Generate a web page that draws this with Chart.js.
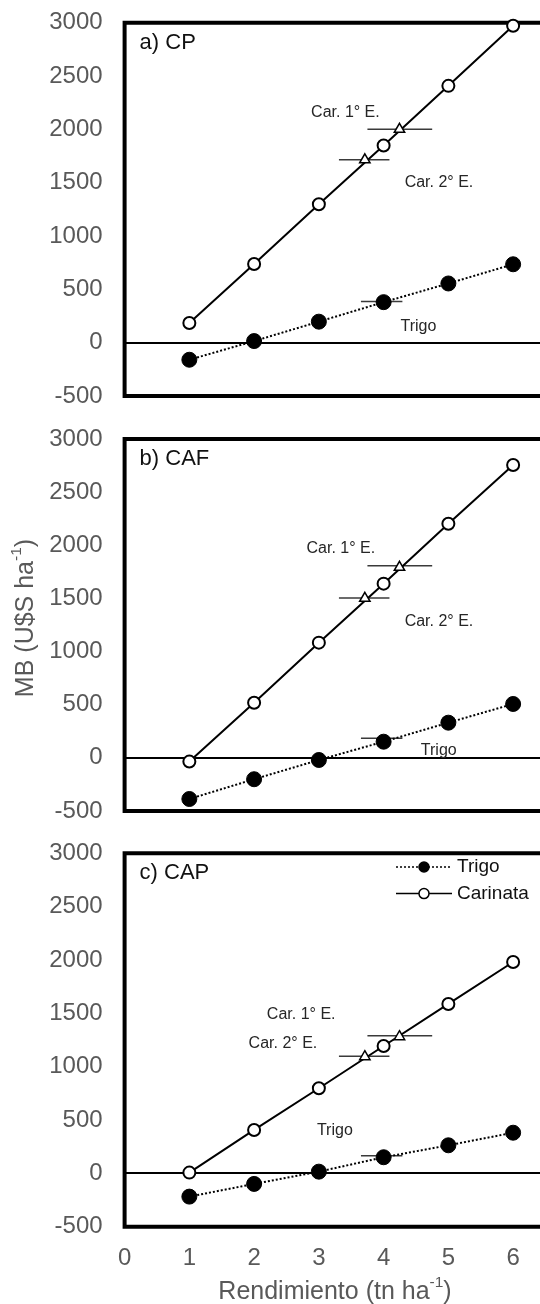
<!DOCTYPE html>
<html>
<head>
<meta charset="utf-8">
<script src="https://cdn.jsdelivr.net/npm/chart.js@4.4.1/dist/chart.umd.min.js"></script>
<style>
  html, body { margin: 0; padding: 0; background: #fff; }
  body { width: 540px; height: 1304px; position: relative; overflow: hidden; }
  canvas { position: absolute; left: 0; }
</style>
</head>
<body>
<canvas id="panelA" width="540" height="420" style="top:0px"></canvas>
<canvas id="panelB" width="540" height="412" style="top:420px"></canvas>
<canvas id="panelC" width="540" height="472" style="top:832px"></canvas>
<script>
// Yield levels (tn/ha) and axis ticks
const yields = [1, 2, 3, 4, 5, 6];
const xTickValues = [0, 1, 2, 3, 4, 5, 6];
const yTickValues = [-500, 0, 500, 1000, 1500, 2000, 2500, 3000];

// a) CP - gross margin (U$S/ha)
const trigoCP = [-160, 15, 197, 380, 555, 735];
const carinataCP = [185, 738, 1298, 1848, 2408, 2971];
const breakYieldCP = [3.71, 4.245];
const breakMbCP = [1714, 2000];
const rangeCenterCP = [3.70, 4.25, 3.97];
const rangeMbCP = [1714, 2000, 385];
const rangeHalfCP = [0.39, 0.50, 0.32];

// b) CAF
const trigoCAF = [-387, -201, -20, 152, 331, 507];
const carinataCAF = [-35, 519, 1084, 1639, 2203, 2755];
const breakYieldCAF = [3.71, 4.245];
const breakMbCAF = [1501, 1793];
const rangeCenterCAF = [3.70, 4.25, 3.97];
const rangeMbCAF = [1504, 1808, 184];
const rangeHalfCAF = [0.39, 0.50, 0.32];

// c) CAP
const trigoCAP = [-218, -99, 16, 151, 263, 381];
const carinataCAP = [7, 407, 798, 1194, 1588, 1981];
const breakYieldCAP = [3.71, 4.245];
const breakMbCAP = [1094, 1281];
const rangeCenterCAP = [3.70, 4.25, 3.97];
const rangeMbCAP = [1097, 1291, 166];
const rangeHalfCAP = [0.39, 0.50, 0.32];

const FONT = "'Liberation Sans', Arial, sans-serif";
const TICK_GREY = '#595959';

// Text with a raised "-1" exponent, centred on x
function drawRich(ctx, parts, x, y, size, color) {
    ctx.fillStyle = color;
    ctx.textBaseline = 'middle';
    ctx.textAlign = 'left';
    let total = 0;
    parts.forEach(p => {
        ctx.font = (p[1] ? size * 0.62 : size) + 'px ' + FONT;
        total += ctx.measureText(p[0]).width;
    });
    let cx = x - total / 2;
    parts.forEach(p => {
        ctx.font = (p[1] ? size * 0.62 : size) + 'px ' + FONT;
        ctx.fillText(p[0], cx, p[1] ? y - size * 0.36 : y);
        cx += ctx.measureText(p[0]).width;
    });
}

// Frame, panel tag, notes, legend and axis titles
const panelDecor = {
    id: 'panelDecor',
    beforeDatasetsDraw(chart) {
        const { ctx, chartArea: a } = chart;
        ctx.save();
        ctx.strokeStyle = '#000';
        ctx.lineWidth = 4;
        ctx.lineCap = 'square';
        ctx.beginPath();
        ctx.moveTo(chart.width + 10, a.top);
        ctx.lineTo(a.left, a.top);
        ctx.lineTo(a.left, a.bottom);
        ctx.lineTo(chart.width + 10, a.bottom);
        ctx.stroke();
        ctx.restore();
    },
    afterDatasetsDraw(chart, args, opts) {
        const { ctx, chartArea: a } = chart;
        const xs = chart.scales.x, ys = chart.scales.y;
        ctx.save();

        ctx.font = '22px ' + FONT;
        ctx.fillStyle = '#111';
        ctx.textBaseline = 'middle';
        ctx.textAlign = 'left';
        ctx.fillText(opts.tag, a.left + 15, a.top + 20);

        ctx.font = '16px ' + FONT;
        ctx.fillStyle = '#262626';
        opts.notes.forEach(n => {
            ctx.fillText(n.text, xs.getPixelForValue(n.x), ys.getPixelForValue(n.y));
        });

        if (opts.legend) {
            const sets = chart.data.datasets;
            opts.legend.forEach((row, i) => {
                const ds = sets.find(d => d.label === row);
                const y = 35 + i * 26.6;
                ctx.strokeStyle = ds.borderColor;
                ctx.lineWidth = 1.5;
                ctx.setLineDash(ds.borderDash || []);
                ctx.beginPath();
                ctx.moveTo(396, y);
                ctx.lineTo(452, y);
                ctx.stroke();
                ctx.setLineDash([]);
                ctx.beginPath();
                ctx.arc(424, y, 5, 0, Math.PI * 2);
                ctx.fillStyle = ds.pointBackgroundColor;
                ctx.fill();
                ctx.lineWidth = 1.5;
                ctx.strokeStyle = '#000';
                ctx.stroke();
                ctx.font = '19px ' + FONT;
                ctx.fillStyle = '#111';
                ctx.fillText(row, 457, y);
            });
        }

        if (opts.yTitle) {
            ctx.translate(26, opts.yTitle);
            ctx.rotate(-Math.PI / 2);
            drawRich(ctx, [['MB (U$S ha', false], ['-1', true], [')', false]], 0, 0, 25, TICK_GREY);
            ctx.setTransform(1, 0, 0, 1, 0, 0);
        }
        if (opts.xTitle) {
            drawRich(ctx, [['Rendimiento (tn ha', false], ['-1', true], [')', false]], 335, opts.xTitle, 25, TICK_GREY);
        }
        ctx.restore();
    }
};

function points(xs, ys) {
    return xs.map((x, i) => ({ x: x, y: ys[i] }));
}

function makePanel(id, p) {
    const datasets = [
        {
            label: 'break',
            data: points(p.breakX, p.breakY),
            showLine: false,
            pointStyle: 'triangle',
            pointRadius: 6,
            pointBorderWidth: 1.5,
            pointBackgroundColor: '#fff',
            pointBorderColor: '#000',
            clip: false
        },
        {
            label: 'Carinata',
            data: points(yields, p.carinata),
            showLine: true,
            borderColor: '#000',
            borderWidth: 2,
            pointRadius: 6,
            pointBorderWidth: 2,
            pointBackgroundColor: '#fff',
            pointBorderColor: '#000',
            clip: false
        },
        {
            label: 'Trigo',
            data: points(yields, p.trigo),
            showLine: true,
            borderColor: '#000',
            borderWidth: 2,
            borderDash: [2, 2],
            pointRadius: 7.5,
            pointBorderWidth: 1,
            pointBackgroundColor: '#000',
            pointBorderColor: '#000',
            clip: false
        }
    ];
    // horizontal range bars
    p.rangeCenter.forEach((c, i) => {
        datasets.push({
            label: 'range',
            data: [{ x: c - p.rangeHalf[i], y: p.rangeMb[i] }, { x: c + p.rangeHalf[i], y: p.rangeMb[i] }],
            showLine: true,
            borderColor: '#3a3a3a',
            borderWidth: 1.5,
            pointRadius: 0,
            clip: false
        });
    });

    return new Chart(document.getElementById(id), {
        type: 'scatter',
        data: { datasets: datasets },
        options: {
            responsive: false,
            animation: false,
            events: [],
            layout: {
                autoPadding: false,
                padding: { top: p.padTop, bottom: p.padBottom, left: 0, right: 0 }
            },
            plugins: {
                legend: { display: false },
                tooltip: { enabled: false },
                panelDecor: {
                    tag: p.tag,
                    notes: p.notes,
                    legend: p.legend,
                    yTitle: p.yTitle,
                    xTitle: p.xTitle
                }
            },
            scales: {
                x: {
                    type: 'linear',
                    min: 0,
                    max: 6.415,
                    display: p.showX,
                    afterBuildTicks: s => { s.ticks = xTickValues.map(v => ({ value: v })); },
                    afterFit: s => {
                        if (p.showX) s.height = 40;
                        s.paddingLeft = 0;
                        s.paddingRight = 0;
                    },
                    grid: { display: false, drawTicks: false },
                    border: { display: false },
                    ticks: {
                        color: TICK_GREY, padding: 17, font: { size: 24, family: FONT },
                        callback: v => String(v)
                    }
                },
                y: {
                    min: -500,
                    max: 3000,
                    afterBuildTicks: s => { s.ticks = yTickValues.map(v => ({ value: v })); },
                    afterFit: s => {
                        s.width = 124.6;
                        s.paddingTop = 0;
                        s.paddingBottom = 0;
                    },
                    grid: {
                        drawTicks: false,
                        lineWidth: 2,
                        color: c => (c.tick && c.tick.value === 0 ? '#000' : 'rgba(0,0,0,0)')
                    },
                    border: { display: false },
                    ticks: {
                        color: TICK_GREY, padding: 22, font: { size: 24, family: FONT },
                        callback: v => String(v)
                    }
                }
            }
        },
        plugins: [panelDecor]
    });
}

makePanel('panelA', {
    tag: 'a) CP',
    carinata: carinataCP, trigo: trigoCP,
    breakX: breakYieldCP, breakY: breakMbCP,
    rangeCenter: rangeCenterCP, rangeMb: rangeMbCP, rangeHalf: rangeHalfCP,
    notes: [
        { text: 'Car. 1° E.', x: 2.88, y: 2153 },
        { text: 'Car. 2° E.', x: 4.325, y: 1497 },
        { text: 'Trigo', x: 4.26, y: 150 }
    ],
    padTop: 22.7, padBottom: 24, showX: false
});

makePanel('panelB', {
    tag: 'b) CAF',
    carinata: carinataCAF, trigo: trigoCAF,
    breakX: breakYieldCAF, breakY: breakMbCAF,
    rangeCenter: rangeCenterCAF, rangeMb: rangeMbCAF, rangeHalf: rangeHalfCAF,
    notes: [
        { text: 'Car. 1° E.', x: 2.81, y: 1965 },
        { text: 'Car. 2° E.', x: 4.325, y: 1281 },
        { text: 'Trigo', x: 4.575, y: 65 }
    ],
    padTop: 19, padBottom: 21, showX: false,
    yTitle: 198
});

makePanel('panelC', {
    tag: 'c) CAP',
    carinata: carinataCAP, trigo: trigoCAP,
    breakX: breakYieldCAP, breakY: breakMbCAP,
    rangeCenter: rangeCenterCAP, rangeMb: rangeMbCAP, rangeHalf: rangeHalfCAP,
    notes: [
        { text: 'Car. 1° E.', x: 2.197, y: 1485 },
        { text: 'Car. 2° E.', x: 1.915, y: 1219 },
        { text: 'Trigo', x: 2.97, y: 397 }
    ],
    legend: ['Trigo', 'Carinata'],
    padTop: 21.3, padBottom: 37.3, showX: true,
    xTitle: 460
});
</script>
</body>
</html>
